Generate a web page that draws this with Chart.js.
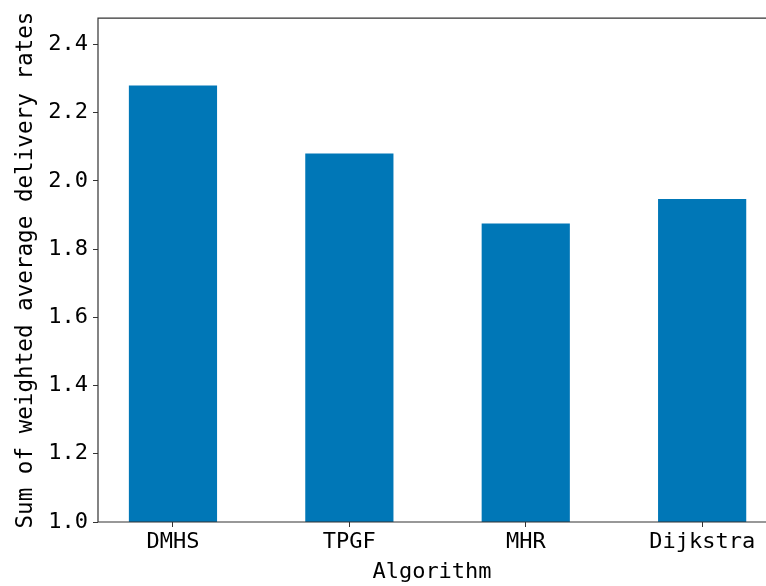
<!DOCTYPE html>
<html>
<head>
<meta charset="utf-8">
<script src="https://cdn.jsdelivr.net/npm/chart.js@4"></script>
<style>
    html, body { margin: 0; padding: 0; background: #fff; overflow: hidden; }
    #chart { display: block; }
</style>
</head>
<body>
<canvas id="chart" width="766" height="586" style="width:766px;height:586px"></canvas>
<script>
// Data
const categories = ["DMHS", "TPGF", "MHR", "Dijkstra"];
const deliveryRates = [2.28, 2.08, 1.875, 1.947];
const yTicks = [1.0, 1.2, 1.4, 1.6, 1.8, 2.0, 2.2, 2.4];

const BAR_COLOR = "#0077b7";
const AXIS_COLOR = "#333333";
const FONT = { family: "'DejaVu Sans Mono', monospace", size: 22 };

// left, top and bottom spines (right one is cut off in the original figure)
const frame = {
    id: "frame",
    afterDraw(chart) {
        const { ctx, chartArea: a } = chart;
        ctx.save();
        ctx.strokeStyle = AXIS_COLOR;
        ctx.lineWidth = 1.2;
        ctx.beginPath();
        ctx.moveTo(chart.width, a.top);
        ctx.lineTo(a.left, a.top);
        ctx.lineTo(a.left, a.bottom);
        ctx.lineTo(chart.width, a.bottom);
        ctx.stroke();
        ctx.restore();
    },
};

function initializeChart() {
    const ctx = document.getElementById("chart").getContext("2d");
    new Chart(ctx, {
        type: "bar",
        data: {
            datasets: [{
                data: deliveryRates.map((v, i) => ({ x: i, y: v })),
                backgroundColor: BAR_COLOR,
                borderWidth: 0,
                categoryPercentage: 1,
                barPercentage: 0.5,
            }],
        },
        options: {
            responsive: false,
            animation: false,
            layout: { padding: { top: 15, right: 0, left: 0, bottom: 0 } },
            plugins: { legend: { display: false }, tooltip: { enabled: false } },
            scales: {
                x: {
                    type: "linear",
                    min: -0.425,
                    max: 3.362,
                    offset: false,
                    afterBuildTicks: (s) => { s.ticks = categories.map((c, i) => ({ value: i })); },
                    afterFit: (s) => { s.height = 64; },
                    ticks: {
                        color: "#000",
                        font: FONT,
                        padding: 2,
                        maxRotation: 0,
                        callback: (v) => categories[v],
                    },
                    grid: { offset: false, drawOnChartArea: false, tickLength: 5, color: AXIS_COLOR },
                    border: { display: false },
                    title: {
                        display: true,
                        text: "Algorithm",
                        color: "#000",
                        font: FONT,
                        padding: { top: 0, bottom: 1 },
                    },
                },
                y: {
                    min: 1.0,
                    max: 2.477,
                    afterBuildTicks: (s) => { s.ticks = yTicks.map((v) => ({ value: v })); },
                    afterFit: (s) => { s.width = 98; },
                    ticks: {
                        color: "#000",
                        font: FONT,
                        padding: 5,
                        callback: (v) => v.toFixed(1),
                    },
                    grid: { drawOnChartArea: false, tickLength: 5, color: AXIS_COLOR },
                    border: { display: false },
                    title: {
                        display: true,
                        text: "Sum of weighted average delivery rates",
                        color: "#000",
                        font: { family: FONT.family, size: 22.6 },
                        padding: { top: 13, bottom: 0 },
                    },
                },
            },
        },
        plugins: [frame],
    });
}

initializeChart();
</script>
</body>
</html>
